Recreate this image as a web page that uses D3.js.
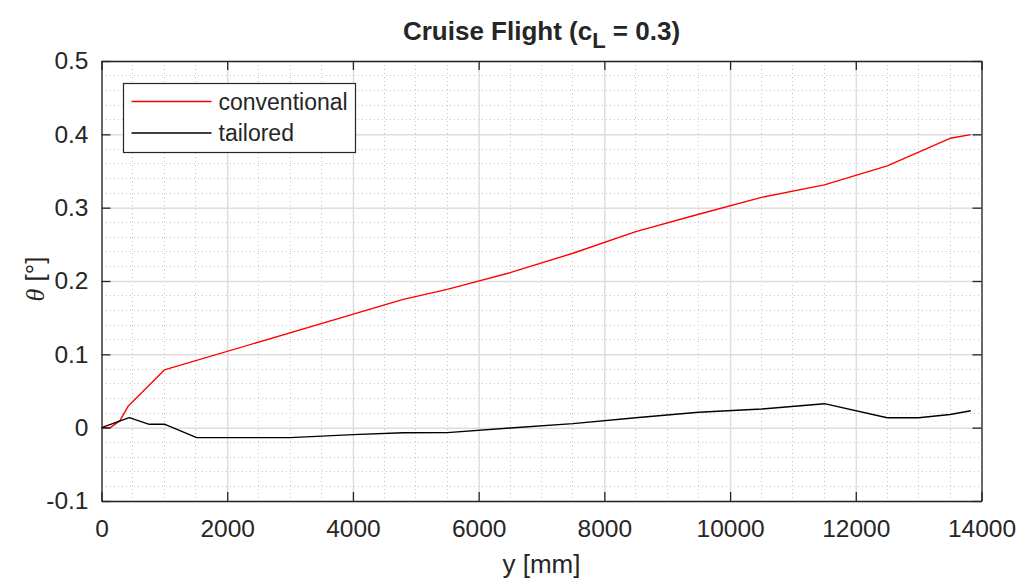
<!DOCTYPE html>
<html>
<head>
<meta charset="utf-8">
<script src="https://cdn.jsdelivr.net/npm/d3@7"></script>
<style>
  body { margin: 0; background: #fff; }
  text { font-family: "Liberation Sans", Arial, sans-serif; fill: #262626; }
</style>
</head>
<body>
<svg width="1023" height="580"></svg>
<script>
// span positions y [mm] and twist angle theta [deg]
var convY = [0, 140, 294, 427, 1000, 4800, 5500, 6500, 7500, 8500, 9500, 10500, 11500, 12500, 13500, 13830];
var convTheta = [0, 0, 0.0096, 0.0296, 0.0787, 0.175, 0.1885, 0.2114, 0.2378, 0.2673, 0.291, 0.314, 0.331, 0.357, 0.3946, 0.3996];
var tailY = [0, 442, 760, 1010, 1514, 3000, 4000, 4800, 5500, 6500, 7500, 8500, 9500, 10500, 11500, 12500, 13000, 13500, 13830];
var tailTheta = [0, 0.0136, 0.0046, 0.0046, -0.0136, -0.0136, -0.0095, -0.007, -0.0068, -0.0005, 0.0055, 0.0135, 0.021, 0.0255, 0.0327, 0.0136, 0.0136, 0.018, 0.023];
var xTicks = [0, 2000, 4000, 6000, 8000, 10000, 12000, 14000];
var yTicks = [-0.1, 0, 0.1, 0.2, 0.3, 0.4, 0.5];
var yTickLabels = ["-0.1", "0", "0.1", "0.2", "0.3", "0.4", "0.5"];
var seriesNames = ["conventional", "tailored"];
var seriesColors = ["#ff0000", "#000000"];

var svg = d3.select("svg"),
    margin = {top: 61, right: 41.5, bottom: 79, left: 101.5},
    width = +svg.attr("width") - (margin.left + margin.right),
    height = +svg.attr("height") - (margin.top + margin.bottom);

var x = d3.scaleLinear().domain([0, 14000]).range([0, width]),
    y = d3.scaleLinear().domain([-0.1, 0.5]).range([height, 0]);

var g = svg.append("g").attr("transform", "translate(" + margin.left + "," + margin.top + ")");

// minor grid (dotted)
var xMinor = d3.range(0, 14001, 500).filter(function(v) { return v % 2000 !== 0; });
var yMinor = d3.range(-100, 501, 20).map(function(v) { return v / 1000; })
    .filter(function(v) { return Math.abs(Math.round(v * 1000) % 100) !== 0; });

g.selectAll(".xminor")
    .data(xMinor)
    .enter().append("line")
    .attr("x1", function(d) { return x(d); })
    .attr("x2", function(d) { return x(d); })
    .attr("y1", 0)
    .attr("y2", height)
    .attr("stroke", "#c4c4c4")
    .attr("stroke-width", 1)
    .attr("stroke-dasharray", "1,3")
    .attr("shape-rendering", "crispEdges");

g.selectAll(".yminor")
    .data(yMinor)
    .enter().append("line")
    .attr("x1", 0)
    .attr("x2", width)
    .attr("y1", function(d) { return y(d); })
    .attr("y2", function(d) { return y(d); })
    .attr("stroke", "#c4c4c4")
    .attr("stroke-width", 1)
    .attr("stroke-dasharray", "1,3")
    .attr("shape-rendering", "crispEdges");

// major grid
g.append("g")
    .attr("transform", "translate(0," + height + ")")
    .call(d3.axisBottom(x).tickValues(xTicks).tickSize(-height).tickFormat(""))
    .call(function(s) { s.select(".domain").remove(); })
    .selectAll("line").attr("stroke", "#dedede").attr("stroke-width", 1.5);

g.append("g")
    .call(d3.axisLeft(y).tickValues(yTicks).tickSize(-width).tickFormat(""))
    .call(function(s) { s.select(".domain").remove(); })
    .selectAll("line").attr("stroke", "#dedede").attr("stroke-width", 1.5);

// data lines
var line = d3.line()
    .x(function(d) { return x(d[0]); })
    .y(function(d) { return y(d[1]); });

var series = [d3.zip(convY, convTheta), d3.zip(tailY, tailTheta)];

g.selectAll(".series")
    .data(series)
    .enter().append("path")
    .attr("d", line)
    .attr("fill", "none")
    .attr("stroke", function(d, i) { return seriesColors[i]; })
    .attr("stroke-width", 1.4)
    .attr("stroke-linejoin", "round");

// axes box with inward ticks
var tk = 9;
g.append("g")
    .attr("transform", "translate(0," + height + ")")
    .call(d3.axisBottom(x).tickValues(xTicks).tickSizeInner(-tk).tickSizeOuter(0).tickPadding(19).tickFormat(d3.format("d")))
    .call(function(s) {
        s.select(".domain").attr("stroke", "#262626").attr("stroke-width", 1.3);
        s.selectAll("line").attr("stroke", "#262626").attr("stroke-width", 1.3);
        s.selectAll("text").style("font-size", "24.5px").attr("fill", "#262626");
    });

g.append("g")
    .call(d3.axisTop(x).tickValues(xTicks).tickSizeInner(-tk).tickSizeOuter(0).tickFormat(""))
    .call(function(s) {
        s.select(".domain").attr("stroke", "#262626").attr("stroke-width", 1.3);
        s.selectAll("line").attr("stroke", "#262626").attr("stroke-width", 1.3);
    });

g.append("g")
    .call(d3.axisLeft(y).tickValues(yTicks).tickSizeInner(-tk).tickSizeOuter(0).tickPadding(13)
        .tickFormat(function(d, i) { return yTickLabels[i]; }))
    .call(function(s) {
        s.select(".domain").attr("stroke", "#262626").attr("stroke-width", 1.3);
        s.selectAll("line").attr("stroke", "#262626").attr("stroke-width", 1.3);
        s.selectAll("text").style("font-size", "24.5px").attr("fill", "#262626");
    });

g.append("g")
    .attr("transform", "translate(" + width + ",0)")
    .call(d3.axisRight(y).tickValues(yTicks).tickSizeInner(-tk).tickSizeOuter(0).tickFormat(""))
    .call(function(s) {
        s.select(".domain").attr("stroke", "#262626").attr("stroke-width", 1.3);
        s.selectAll("line").attr("stroke", "#262626").attr("stroke-width", 1.3);
    });

// title
var title = svg.append("text")
    .attr("x", margin.left + width / 2)
    .attr("y", 40)
    .attr("text-anchor", "middle")
    .style("font-size", "26px")
    .style("font-weight", "bold")
    .attr("fill", "#000");
title.append("tspan").text("Cruise Flight (c");
title.append("tspan").attr("dy", 8).style("font-size", "22px").text("L");
title.append("tspan").attr("dy", -8).text(" = 0.3)");

// axis labels
svg.append("text")
    .attr("x", margin.left + width / 2)
    .attr("y", 573)
    .attr("text-anchor", "middle")
    .style("font-size", "26px")
    .text("y [mm]");

var ylab = svg.append("text")
    .attr("transform", "translate(44," + (margin.top + height / 2 - 2) + ") rotate(-90)")
    .attr("text-anchor", "middle")
    .style("font-size", "26px");
ylab.append("tspan").style("font-family", "'Liberation Serif', serif").style("font-style", "italic").text("\u03B8");
ylab.append("tspan").text(" [\u00B0]");

// legend
var lg = svg.append("g").attr("transform", "translate(123.5,83.5)");
lg.append("rect")
    .attr("width", 232)
    .attr("height", 69)
    .attr("fill", "#fff")
    .attr("stroke", "#262626")
    .attr("stroke-width", 1.2);

var items = lg.selectAll(".item")
    .data(seriesNames)
    .enter().append("g")
    .attr("transform", function(d, i) { return "translate(0," + (18 + i * 31.5) + ")"; });

items.append("line")
    .attr("x1", 8)
    .attr("x2", 88)
    .attr("stroke", function(d, i) { return seriesColors[i]; })
    .attr("stroke-width", 1.4);

items.append("text")
    .attr("x", 95)
    .attr("dy", "0.35em")
    .style("font-size", "23px")
    .attr("fill", "#000")
    .text(function(d) { return d; });
</script>
</body>
</html>
